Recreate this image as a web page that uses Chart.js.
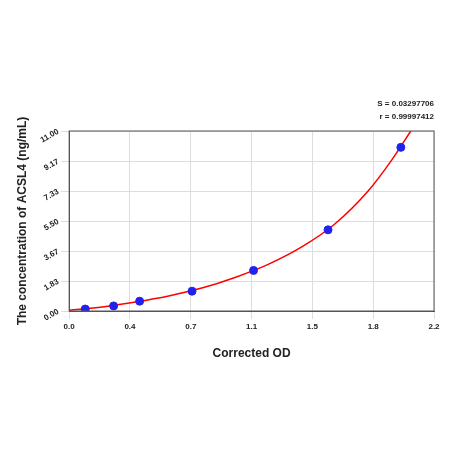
<!DOCTYPE html><html><head><script src="https://cdn.jsdelivr.net/npm/chart.js@4"></script>
<style>body{margin:0;background:#fff}#w{position:relative;width:450px;height:450px}</style></head><body><div id="w"><canvas id="c" width="450" height="450"></canvas></div>
<script>
const odValues=[0.097,0.268,0.425,0.741,1.112,1.561,2.0];
const concValues=[0.12,0.31,0.6,1.21,2.48,4.96,10.0];
const curveX=[0,0.2,0.4,0.6,0.8,1.0,1.2,1.4,1.6,1.8,1.95,2.06];
const curveY=[0.05,0.25,0.55,0.92,1.4,2.05,2.85,3.9,5.3,7.3,9.3,11.0];
const xTicks=['0.0','0.4','0.7','1.1','1.5','1.8','2.2'];
const yTicks=['0.00','1.83','3.67','5.50','7.33','9.17','11.00'];
const ann={id:'ann',afterDraw(c){const g=c.ctx,a=c.chartArea;g.save();g.strokeStyle='#555';g.lineWidth=1;g.strokeRect(a.left,a.top,a.right-a.left,a.bottom-a.top);g.font='bold 8px Arial';g.fillStyle='#222';g.textAlign='right';g.fillText('S = 0.03297706',434,106);g.fillText('r = 0.99997412',434,119);g.restore();}};
new Chart(document.getElementById('c'),{type:'scatter',data:{datasets:[
{data:curveX.map((x,i)=>({x,y:curveY[i]})),showLine:true,borderColor:'#ff0000',borderWidth:1.5,pointRadius:0,cubicInterpolationMode:'monotone',order:2},
{data:odValues.map((x,i)=>({x,y:concValues[i]})),backgroundColor:'#2222ee',borderColor:'#2222ee',pointRadius:4,order:1}]},
options:{responsive:false,animation:false,layout:{padding:{left:11,right:16,top:131,bottom:85}},plugins:{legend:{display:false},tooltip:{enabled:false}},
scales:{x:{min:0,max:2.2,afterBuildTicks(a){a.ticks=xTicks.map((t,i)=>({value:i*2.2/6}));},ticks:{callback:(v,i)=>xTicks[i],color:'#222',font:{size:8,weight:'bold',family:'Arial'},maxRotation:0},grid:{color:'#ddd',borderDash:[2,2]},border:{color:'#555'},title:{display:true,text:'Corrected OD',font:{size:12,weight:'bold',family:'Arial'},color:'#222',padding:{top:12}}},
y:{min:0,max:11,afterBuildTicks(a){a.ticks=yTicks.map((t,i)=>({value:i*11/6}));},ticks:{callback:(v,i)=>yTicks[i],color:'#222',font:{size:8,weight:'bold',family:'Arial'},minRotation:30,maxRotation:30},grid:{color:'#ddd',borderDash:[2,2]},border:{color:'#555'},title:{display:true,text:'The concentration of ACSL4 (ng/mL)',font:{size:12,weight:'bold',family:'Arial'},color:'#222'}}}},plugins:[ann]});
</script></body></html>
